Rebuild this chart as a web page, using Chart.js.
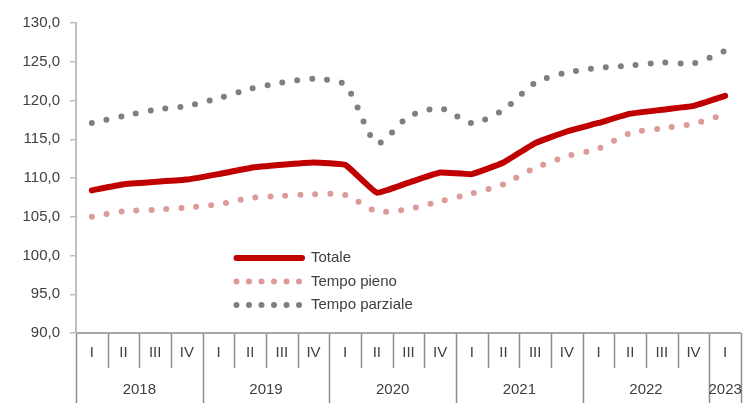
<!DOCTYPE html>
<html lang="it">
	<head>
		<meta charset="UTF-8">
		<title>Totale, tempo pieno e tempo parziale</title>
		<script src="https://cdn.jsdelivr.net/npm/chart.js@4/dist/chart.umd.min.js"></script>
		<style>
			html, body { margin: 0; padding: 0; background: #fff; }
			#wrap { width: 755px; height: 403px; }
		</style>
	</head>
	<body>
		<div id="wrap"><canvas id="chart" width="755" height="403"></canvas></div>
		<script>
			// data
			var years = ["2018", "2019", "2020", "2021", "2022", "2023"];
			var quarters = ["I", "II", "III", "IV", "I", "II", "III", "IV", "I", "II", "III", "IV",
				"I", "II", "III", "IV", "I", "II", "III", "IV", "I"];
			var totale = [108.4, 109.2, 109.5, 109.8, 110.5, 111.3, 111.7, 112.0, 111.7, 108.1, 109.4,
				110.7, 110.5, 112.0, 114.5, 116.0, 117.1, 118.3, 118.8, 119.3, 120.6];
			var tempoPieno = [105.0, 105.7, 105.9, 106.2, 106.6, 107.4, 107.7, 107.9, 107.8, 105.7, 106.0,
				107.0, 108.0, 109.2, 111.3, 112.8, 113.8, 115.8, 116.4, 117.0, 118.2];
			var tempoParziale = [117.1, 118.0, 118.8, 119.3, 120.3, 121.5, 122.3, 122.8, 122.0, 114.5, 117.9,
				119.0, 117.1, 118.8, 122.3, 123.6, 124.2, 124.5, 124.9, 124.8, 126.4];
			var yTicks = [90, 95, 100, 105, 110, 115, 120, 125, 130];

			var FONT = "15px 'Liberation Sans', Arial, sans-serif";
			var TEXT = "#404040";
			var RED = "#c00000", PINK = "#dc9a98", GREY = "#7f7f7f";

			// x axis with quarters, years and separators; plus the legend inside the plot
			var extras = {
				id: "extras",
				afterDraw: function(chart) {
					var ctx = chart.ctx;
					var x = chart.scales.x;
					var area = chart.chartArea;
					var step = (area.right - area.left) / quarters.length;
					var base = area.bottom;
					ctx.save();
					ctx.font = FONT;
					ctx.fillStyle = TEXT;
					ctx.textAlign = "center";
					ctx.textBaseline = "middle";
					for (var i = 0; i < quarters.length; i++) {
						ctx.fillText(quarters[i], x.getPixelForValue(i), base + 20);
					}
					// separators
					ctx.strokeStyle = "#8c8c8c";
					ctx.lineWidth = 1.5;
					for (var k = 0; k <= quarters.length; k++) {
						var px = Math.round(area.left + k * step) + 0.5;
						var long = (k % 4 == 0) || k == quarters.length;
						ctx.beginPath();
						ctx.moveTo(px, base);
						ctx.lineTo(px, long ? chart.height : base + 35);
						ctx.stroke();
					}
					// years
					for (var y = 0; y < years.length; y++) {
						var first = y * 4;
						var last = Math.min(first + 3, quarters.length - 1);
						var cx = (x.getPixelForValue(first) + x.getPixelForValue(last)) / 2;
						ctx.fillText(years[y], cx, base + 57);
					}
					// axis line
					ctx.strokeStyle = "#a6a6a6";
					ctx.lineWidth = 2;
					ctx.beginPath();
					ctx.moveTo(area.left, base);
					ctx.lineTo(area.right, base);
					ctx.stroke();

					// legend
					var rows = [
						{ text: "Totale", color: RED, dash: [], width: 6 },
						{ text: "Tempo pieno", color: PINK, dash: [0, 12.5], width: 6 },
						{ text: "Tempo parziale", color: GREY, dash: [0, 12.5], width: 6 }
					];
					ctx.textAlign = "left";
					for (var r = 0; r < rows.length; r++) {
						var ly = 258 + r * 23.5;
						ctx.strokeStyle = rows[r].color;
						ctx.lineWidth = rows[r].width;
						ctx.lineCap = "round";
						ctx.setLineDash(rows[r].dash);
						ctx.beginPath();
						ctx.moveTo(236.5, ly);
						ctx.lineTo(302, ly);
						ctx.stroke();
						ctx.setLineDash([]);
						ctx.fillStyle = TEXT;
						ctx.fillText(rows[r].text, 311, ly);
					}
					ctx.restore();
				}
			};

			new Chart(document.getElementById("chart"), {
				type: "line",
				data: {
					labels: quarters,
					datasets: [
						{
							label: "Tempo parziale",
							data: tempoParziale,
							borderColor: GREY,
							borderWidth: 6,
							borderDash: [0, 15],
							borderCapStyle: "round",
							pointRadius: 0,
							tension: 0.25
						},
						{
							label: "Tempo pieno",
							data: tempoPieno,
							borderColor: PINK,
							borderWidth: 6,
							borderDash: [0, 15],
							borderCapStyle: "round",
							pointRadius: 0,
							tension: 0.25
						},
						{
							label: "Totale",
							data: totale,
							borderColor: RED,
							borderWidth: 6,
							borderCapStyle: "round",
							borderJoinStyle: "round",
							pointRadius: 0,
							tension: 0.1
						}
					]
				},
				options: {
					responsive: false,
					animation: false,
					layout: { padding: { left: 0, right: 14, top: 23, bottom: 0 } },
					plugins: {
						legend: { display: false },
						tooltip: { enabled: false }
					},
					scales: {
						x: {
							offset: true,
							ticks: { display: false },
							grid: { display: false },
							border: { display: false },
							afterFit: function(scale) { scale.height = 70; }
						},
						y: {
							min: 90,
							max: 130,
							afterBuildTicks: function(scale) {
								scale.ticks = yTicks.map(function(v) { return { value: v }; });
							},
							afterFit: function(scale) { scale.width = 76; },
							ticks: {
								color: TEXT,
								font: { family: "'Liberation Sans', Arial, sans-serif", size: 15 },
								padding: 10,
								callback: function(v) { return v.toFixed(1).replace(".", ","); }
							},
							grid: { drawOnChartArea: false, drawTicks: true, tickLength: 6, color: "#bfbfbf", lineWidth: 1.5 },
							border: { color: "#bfbfbf", width: 2 }
						}
					}
				},
				plugins: [extras]
			});
		</script>
	</body>
</html>
